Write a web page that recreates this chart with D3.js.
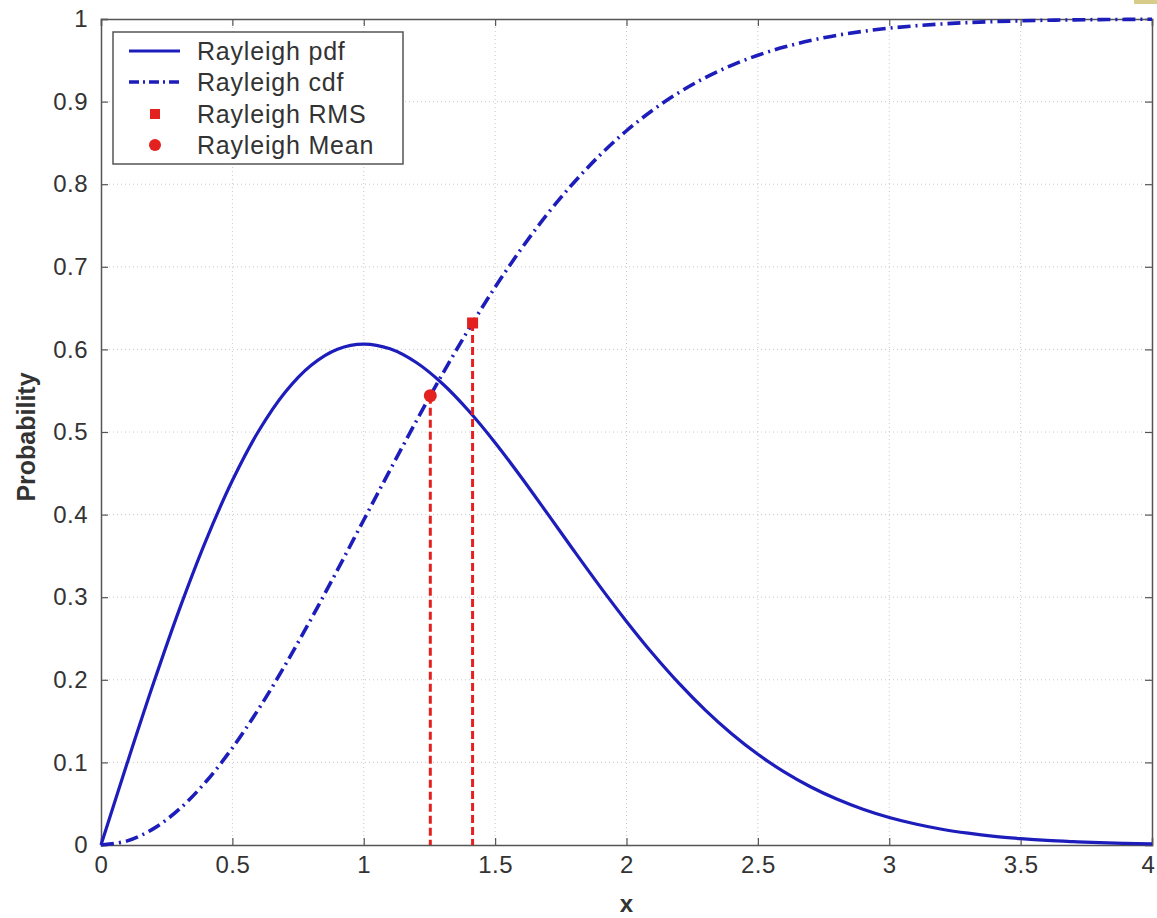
<!DOCTYPE html>
<html>
<head>
<meta charset="utf-8">
<script src="https://cdn.jsdelivr.net/npm/d3@7"></script>
<style>
  html, body { margin: 0; padding: 0; background: #fff; }
  svg { display: block; }
  text { font-family: "Liberation Sans", Arial, sans-serif; }
</style>
</head>
<body>
<svg id="chart" width="1157" height="918"></svg>
<script>
// Sample points along x
const xs = [0,0.1,0.2,0.3,0.4,0.5,0.6,0.7,0.8,0.9,1.0,1.1,1.2,1.3,1.4,1.5,1.6,1.7,1.8,1.9,2.0,
            2.1,2.2,2.3,2.4,2.5,2.6,2.7,2.8,2.9,3.0,3.1,3.2,3.3,3.4,3.5,3.6,3.7,3.8,3.9,4.0];
// Rayleigh pdf values
const pdfValues = [0,0.0995,0.1960,0.2868,0.3692,0.4412,0.5012,0.5479,0.5809,0.6003,0.6065,
                   0.6007,0.5841,0.5584,0.5254,0.4870,0.4449,0.4008,0.3562,0.3125,0.2707,
                   0.2315,0.1956,0.1633,0.1347,0.1098,0.0885,0.0705,0.0556,0.0433,0.0333,
                   0.0254,0.0191,0.0143,0.0105,0.0077,0.0055,0.0040,0.0028,0.0019,0.0013];
// Rayleigh cdf values
const cdfValues = [0,0.0050,0.0198,0.0440,0.0769,0.1175,0.1647,0.2173,0.2739,0.3330,0.3935,
                   0.4539,0.5132,0.5704,0.6247,0.6753,0.7220,0.7643,0.8021,0.8355,0.8647,
                   0.8897,0.9111,0.9290,0.9439,0.9561,0.9660,0.9739,0.9802,0.9851,0.9889,
                   0.9918,0.9940,0.9957,0.9969,0.9978,0.9985,0.9989,0.9993,0.9995,0.9997];
// RMS and mean markers [x, probability]
const rmsPoint = [1.4142, 0.632];
const meanPoint = [1.2533, 0.544];
// Tick labels
const xTicks = [0,0.5,1,1.5,2,2.5,3,3.5,4];
const yTicks = [0,0.1,0.2,0.3,0.4,0.5,0.6,0.7,0.8,0.9,1];
const legendLabels = ["Rayleigh pdf","Rayleigh cdf","Rayleigh RMS","Rayleigh Mean"];

const svg = d3.select("#chart");
const plotLeft = 101, plotRight = 1152, plotTop = 19, plotBottom = 845;
const x = d3.scaleLinear().domain([0,4]).range([plotLeft,plotRight]);
const y = d3.scaleLinear().domain([0,1]).range([plotBottom,plotTop]);

const blue = "#1d1dbb";
const red = "#e3211f";
const axisColor = "#555";
const textColor = "#333";

// small corner tab
svg.append("rect").attr("x",1134).attr("y",0).attr("width",23).attr("height",4).attr("fill","#d8cc8a");

// grid
const grid = svg.append("g");
xTicks.slice(1,-1).forEach(t => {
  grid.append("line").attr("x1",x(t)).attr("x2",x(t)).attr("y1",plotTop).attr("y2",plotBottom)
    .attr("stroke","#c8c8c8").attr("stroke-width",1).attr("stroke-dasharray","1,3");
});
yTicks.slice(1,-1).forEach(t => {
  grid.append("line").attr("x1",plotLeft).attr("x2",plotRight).attr("y1",y(t)).attr("y2",y(t))
    .attr("stroke","#c8c8c8").attr("stroke-width",1).attr("stroke-dasharray","1,3");
});

// axes
const xAxisB = d3.axisBottom(x).tickValues(xTicks).tickSize(-7).tickPadding(11).tickFormat(d3.format(""));
const xAxisT = d3.axisTop(x).tickValues(xTicks).tickSize(-7).tickFormat("");
const yAxisL = d3.axisLeft(y).tickValues(yTicks).tickSize(-7).tickPadding(13).tickFormat(d3.format(""));
const yAxisR = d3.axisRight(y).tickValues(yTicks).tickSize(-7).tickFormat("");

function styleAxis(g) {
  g.selectAll("path.domain").attr("stroke",axisColor).attr("stroke-width",1.5);
  g.selectAll(".tick line").attr("stroke",axisColor).attr("stroke-width",1.2);
  g.selectAll(".tick text").attr("fill",textColor).style("font-size","24px")
    .style("letter-spacing","0.5px")
    .style("font-family","'Liberation Sans', Arial, sans-serif");
}
const gxb = svg.append("g").attr("transform",`translate(0,${plotBottom})`).call(xAxisB).call(styleAxis);
// keep the last x label inside the page edge
gxb.selectAll(".tick text").filter(d => d === 4).attr("dx", -4);
svg.append("g").attr("transform",`translate(0,${plotTop})`).call(xAxisT).call(styleAxis);
svg.append("g").attr("transform",`translate(${plotLeft},0)`).call(yAxisL).call(styleAxis);
svg.append("g").attr("transform",`translate(${plotRight},0)`).call(yAxisR).call(styleAxis);

// axis titles
svg.append("text").attr("x",(plotLeft+plotRight)/2).attr("y",912).attr("text-anchor","middle")
  .attr("fill",textColor).style("font-size","24px").style("font-weight","bold").text("x");
svg.append("text").attr("transform",`translate(35,${437}) rotate(-90)`)
  .attr("text-anchor","middle").attr("fill",textColor)
  .style("font-size","25px").style("font-weight","bold").text("Probability");

// curves
const line = d3.line().x(d => x(d[0])).y(d => y(d[1])).curve(d3.curveCatmullRom);
svg.append("path").datum(xs.map((v,i) => [v, pdfValues[i]]))
  .attr("d",line).attr("fill","none").attr("stroke",blue).attr("stroke-width",3.2);
svg.append("path").datum(xs.map((v,i) => [v, cdfValues[i]]))
  .attr("d",line).attr("fill","none").attr("stroke",blue).attr("stroke-width",3.6)
  .attr("stroke-dasharray","13,5,2,5");

// vertical drop lines for RMS and mean
[rmsPoint, meanPoint].forEach(p => {
  svg.append("line").attr("x1",x(p[0])).attr("x2",x(p[0])).attr("y1",y(p[1])).attr("y2",y(0))
    .attr("stroke",red).attr("stroke-width",3).attr("stroke-dasharray","8,4");
});
// markers
svg.append("rect").attr("x",x(rmsPoint[0])-5.5).attr("y",y(rmsPoint[1])-5.5)
  .attr("width",11).attr("height",11).attr("fill",red);
svg.append("circle").attr("cx",x(meanPoint[0])).attr("cy",y(meanPoint[1])).attr("r",6.5).attr("fill",red);

// legend
const lg = svg.append("g");
lg.append("rect").attr("x",113).attr("y",32).attr("width",290).attr("height",132)
  .attr("fill","#fff").attr("stroke",axisColor).attr("stroke-width",1.5);
const rowY = [51, 82, 114, 145];
legendLabels.forEach((lab,i) => {
  lg.append("text").attr("x",197).attr("y",rowY[i]).attr("dy","0.36em")
    .attr("fill",textColor).style("font-size","25px").style("letter-spacing","0.8px").text(lab);
});
lg.append("line").attr("x1",129).attr("x2",180).attr("y1",rowY[0]).attr("y2",rowY[0])
  .attr("stroke",blue).attr("stroke-width",3.2);
lg.append("line").attr("x1",129).attr("x2",180).attr("y1",rowY[1]).attr("y2",rowY[1])
  .attr("stroke",blue).attr("stroke-width",3.6).attr("stroke-dasharray","10,4,2,4");
lg.append("rect").attr("x",155-5).attr("y",rowY[2]-5).attr("width",10).attr("height",10).attr("fill",red);
lg.append("circle").attr("cx",155).attr("cy",rowY[3]).attr("r",6).attr("fill",red);
</script>
</body>
</html>
